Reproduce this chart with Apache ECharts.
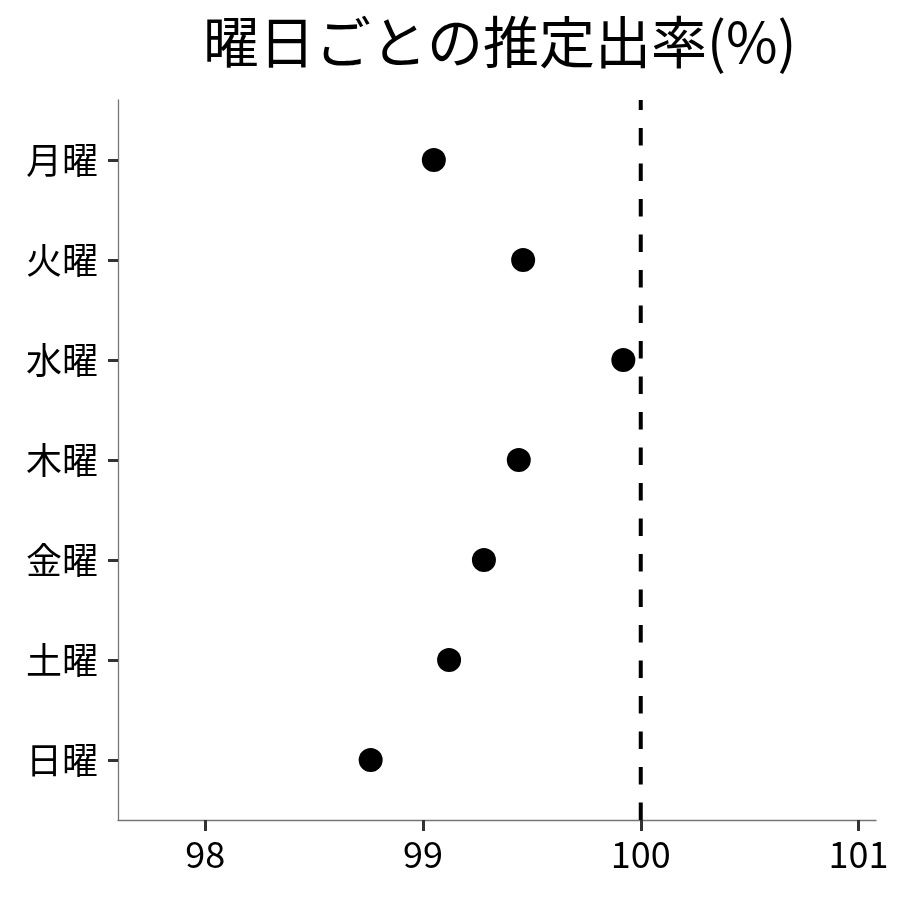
<!DOCTYPE html>
<html><head><meta charset="utf-8">
<script src="https://cdn.jsdelivr.net/npm/echarts@6/dist/echarts.min.js"></script>
<style>html,body{margin:0;padding:0;background:#fff}#c{width:900px;height:900px}</style>
</head><body><div id="c"></div>
<script>
const titleText = '曜日ごとの推定出率(%)';
const days = ['月曜','火曜','水曜','木曜','金曜','土曜','日曜'];
const rates = [99.05, 99.46, 99.92, 99.44, 99.28, 99.12, 98.76];
const xTicks = [98, 99, 100, 101];
const refValue = 100;

const n = days.length;
const points = rates.map((v, i) => [v, n - i]);
const yTicks = days.map((d, i) => n - i);
const font = '"Noto Sans CJK JP", "Noto Sans", sans-serif';

const chart = echarts.init(document.getElementById('c'), null, {renderer: 'canvas'});
chart.setOption({
  animation: false,
  backgroundColor: '#fff',
  graphic: [{
    type: 'text', left: 497 - 294, top: 14,
    style: {text: titleText, fontFamily: font, fontSize: 56, fontWeight: 'normal', fill: '#000'}
  }],
  grid: {left: 118, right: 24, top: 100, bottom: 80, containLabel: false},
  xAxis: {
    type: 'value', min: 97.6, max: 101.08,
    axisLine: {show: true, lineStyle: {color: '#777', width: 1.3}},
    axisTick: {show: true, customValues: xTicks, length: 11, lineStyle: {color: '#333', width: 3}},
    axisLabel: {customValues: xTicks, margin: 16, fontFamily: font, fontSize: 36, color: '#000'},
    splitLine: {show: false}
  },
  yAxis: {
    type: 'value', min: 0.4, max: 7.6,
    axisLine: {show: true, lineStyle: {color: '#777', width: 1.3}},
    axisTick: {show: true, customValues: yTicks, length: 10, lineStyle: {color: '#333', width: 3}},
    axisLabel: {customValues: yTicks, margin: 20, fontFamily: font, fontSize: 36, color: '#000',
      formatter: v => days[n - Math.round(v)]},
    splitLine: {show: false}
  },
  series: [
    {
      type: 'line', data: [[refValue, 0.4], [refValue, 7.6]], symbol: 'none',
      lineStyle: {color: '#000', width: 4, type: [17.5, 18]}, silent: true, z: 1
    },
    {
      type: 'scatter', data: points, symbol: 'circle', symbolSize: 24,
      itemStyle: {color: '#000', opacity: 1}, z: 3
    }
  ]
});
</script>
</body></html>
